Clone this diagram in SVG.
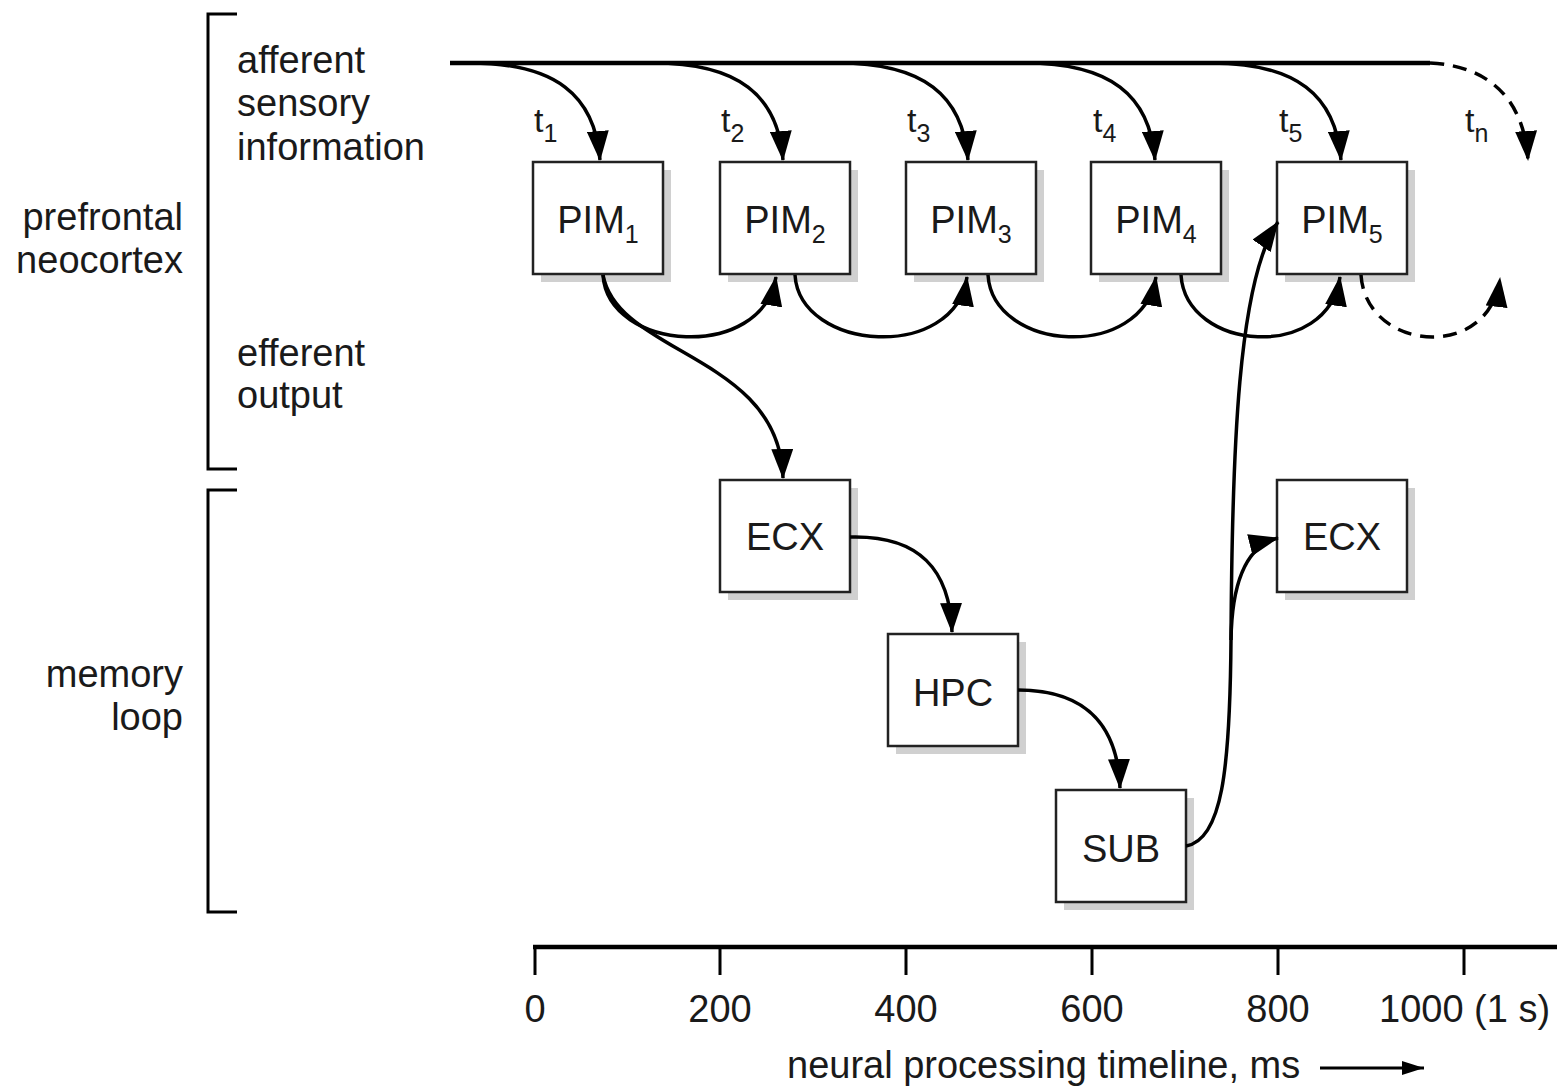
<svg xmlns="http://www.w3.org/2000/svg" width="1564" height="1088" viewBox="0 0 1564 1088">
<style>
text{font-family:"Liberation Sans",Arial,sans-serif;fill:#1a1a1a;}
.lbl{font-size:38px;}
.box{fill:#fff;stroke:#222;stroke-width:2.5;}
.sh{fill:#d0d0d0;}
.bt{font-size:38px;text-anchor:middle;}
.sub{font-size:25px;}
.c{fill:none;stroke:#000;stroke-width:3.5;marker-end:url(#ah);}
.d{stroke-dasharray:14 9;}
.ax{stroke:#000;fill:none;}
.tk{font-size:38px;text-anchor:middle;}
</style>
<defs>
<marker id="ah" viewBox="0 0 30 22" refX="29" refY="11" markerWidth="30" markerHeight="22" markerUnits="userSpaceOnUse" orient="auto">
<path d="M0,0 L30,11 L0,22 z" fill="#000"/>
</marker>
<marker id="ah2" viewBox="0 0 22 14" refX="22" refY="7" markerWidth="22" markerHeight="14" markerUnits="userSpaceOnUse" orient="auto">
<path d="M0,0 L22,7 L0,14 z" fill="#000"/>
</marker>
</defs>

<g id="brackets">
<path class="ax" stroke-width="3" d="M237 14 L208 14 L208 469 L237 469"/>
<path class="ax" stroke-width="3" d="M237 490 L208 490 L208 912 L237 912"/>
</g>

<g id="labels">
<text class="lbl" x="183" y="230" text-anchor="end">prefrontal</text>
<text class="lbl" x="183" y="273" text-anchor="end">neocortex</text>
<text class="lbl" x="183" y="687" text-anchor="end">memory</text>
<text class="lbl" x="183" y="730" text-anchor="end">loop</text>
<text class="lbl" x="237" y="73">afferent</text>
<text class="lbl" x="237" y="116">sensory</text>
<text class="lbl" x="237" y="160">information</text>
<text class="lbl" x="237" y="366">efferent</text>
<text class="lbl" x="237" y="408">output</text>
</g>

<g id="tlabels">
<text x="534" y="132" font-size="34">t<tspan class="sub" dy="10">1</tspan></text>
<text x="721" y="132" font-size="34">t<tspan class="sub" dy="10">2</tspan></text>
<text x="907" y="132" font-size="34">t<tspan class="sub" dy="10">3</tspan></text>
<text x="1093" y="132" font-size="34">t<tspan class="sub" dy="10">4</tspan></text>
<text x="1279" y="132" font-size="34">t<tspan class="sub" dy="10">5</tspan></text>
<text x="1465" y="132" font-size="34">t<tspan class="sub" dy="10">n</tspan></text>
</g>

<g id="pim1"><rect class="sh" x="541" y="170" width="130" height="112"/><rect class="box" x="533" y="162" width="130" height="112"/><text class="bt" x="598" y="233">PIM<tspan class="sub" dy="10">1</tspan></text></g>
<g id="pim2"><rect class="sh" x="728" y="170" width="130" height="112"/><rect class="box" x="720" y="162" width="130" height="112"/><text class="bt" x="785" y="233">PIM<tspan class="sub" dy="10">2</tspan></text></g>
<g id="pim3"><rect class="sh" x="914" y="170" width="130" height="112"/><rect class="box" x="906" y="162" width="130" height="112"/><text class="bt" x="971" y="233">PIM<tspan class="sub" dy="10">3</tspan></text></g>
<g id="pim4"><rect class="sh" x="1099" y="170" width="130" height="112"/><rect class="box" x="1091" y="162" width="130" height="112"/><text class="bt" x="1156" y="233">PIM<tspan class="sub" dy="10">4</tspan></text></g>
<g id="pim5"><rect class="sh" x="1285" y="170" width="130" height="112"/><rect class="box" x="1277" y="162" width="130" height="112"/><text class="bt" x="1342" y="233">PIM<tspan class="sub" dy="10">5</tspan></text></g>
<g id="ecx1"><rect class="sh" x="728" y="488" width="130" height="112"/><rect class="box" x="720" y="480" width="130" height="112"/><text class="bt" x="785" y="550">ECX</text></g>
<g id="hpc"><rect class="sh" x="896" y="642" width="130" height="112"/><rect class="box" x="888" y="634" width="130" height="112"/><text class="bt" x="953" y="706">HPC</text></g>
<g id="sub"><rect class="sh" x="1064" y="798" width="130" height="112"/><rect class="box" x="1056" y="790" width="130" height="112"/><text class="bt" x="1121" y="862">SUB</text></g>
<g id="ecx2"><rect class="sh" x="1285" y="488" width="130" height="112"/><rect class="box" x="1277" y="480" width="130" height="112"/><text class="bt" x="1342" y="550">ECX</text></g>

<g id="connectors">
<path d="M450 63 L1430 63" stroke="#000" stroke-width="4.5" fill="none"/>
<path class="c" d="M470 63 C555 63 595 95 600 160"/>
<path class="c" d="M653 63 C738 63 778 95 783 160"/>
<path class="c" d="M838 63 C923 63 963 95 968 160"/>
<path class="c" d="M1025 63 C1110 63 1150 95 1155 160"/>
<path class="c" d="M1211 63 C1296 63 1336 95 1341 160"/>
<path class="c d" d="M1430 63 C1490 66 1524 100 1528 160"/>
<path class="c" d="M603 275 C608 352 762 362 776 277"/>
<path class="c" d="M795 275 C800 352 955 362 967 277"/>
<path class="c" d="M988 275 C993 352 1142 362 1156 277"/>
<path class="c" d="M1181 275 C1186 352 1328 362 1340 277"/>
<path class="c d" d="M1361 275 C1366 352 1490 362 1500 278"/>
<path class="c" d="M603 275 C618 355 780 355 783 478"/>
<path class="c" d="M850 537 C920 535 950 570 952 632"/>
<path class="c" d="M1018 690 C1090 690 1118 730 1120 788"/>
<path class="c" d="M1186 846 C1222 840 1230 770 1231 640 C1232 450 1238 280 1278 222"/>
<path class="c" d="M1231 640 C1232 575 1250 545 1278 538"/>
</g>

<g id="axis">
<path class="ax" stroke-width="4.5" d="M533 947 L1557 947"/>
<path class="ax" stroke-width="3" d="M535 947 V975 M720 947 V975 M906 947 V975 M1092 947 V975 M1278 947 V975 M1464 947 V975"/>
<text class="tk" x="535" y="1022">0</text>
<text class="tk" x="720" y="1022">200</text>
<text class="tk" x="906" y="1022">400</text>
<text class="tk" x="1092" y="1022">600</text>
<text class="tk" x="1278" y="1022">800</text>
<text x="1379" y="1022" font-size="38">1000 (1 s)</text>
<text x="787" y="1078" font-size="38">neural processing timeline, ms</text>
<path d="M1320 1068 L1424 1068" stroke="#000" stroke-width="3" fill="none" marker-end="url(#ah2)"/>
</g>
</svg>
